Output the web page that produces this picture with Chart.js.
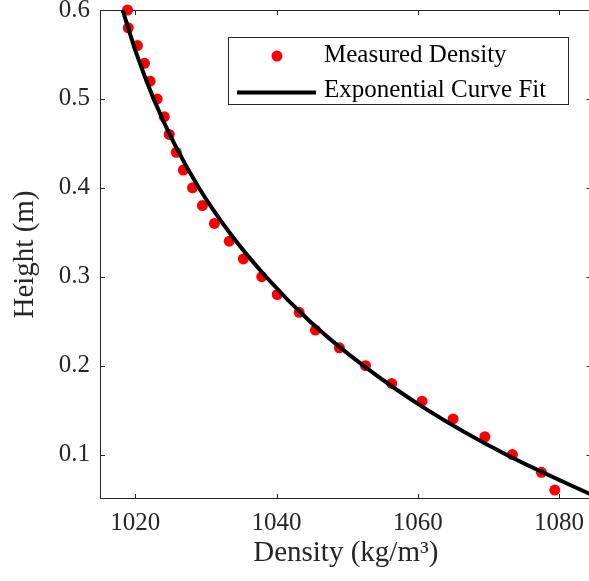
<!DOCTYPE html>
<html>
<head>
<meta charset="utf-8">
<script src="https://cdn.jsdelivr.net/npm/chart.js@4.4.0/dist/chart.umd.min.js"></script>
<style>
    html, body { margin: 0; padding: 0; background: #fff; overflow: hidden; }
    #wrap { width: 589px; height: 581px; overflow: hidden; }
    canvas { display: block; }
</style>
</head>
<body>
<div id="wrap"><canvas id="densityChart" width="597" height="581"></canvas></div>
<script>
// Dados medidos (altura em m, densidade em kg/m3)
const heights = [0.60, 0.58, 0.56, 0.54, 0.52, 0.50, 0.48, 0.46, 0.44, 0.42, 0.40, 0.38, 0.36, 0.34,
    0.32, 0.30, 0.28, 0.26, 0.24, 0.22, 0.20, 0.18, 0.16, 0.14, 0.12, 0.10, 0.08, 0.06];
const measuredDensity = [1018.9, 1019.0, 1020.3, 1021.3, 1022.1, 1023.1, 1024.1, 1024.8, 1025.8, 1026.8,
    1028.1, 1029.5, 1031.2, 1033.3, 1035.3, 1037.9, 1040.1, 1043.2, 1045.5, 1048.9, 1052.6, 1056.3,
    1060.6, 1065.0, 1069.5, 1073.4, 1077.5, 1079.4];

// Curva exponencial ajustada
const fitHeights = [0.60, 0.55, 0.50, 0.45, 0.40, 0.35, 0.30, 0.25, 0.20, 0.15, 0.10, 0.05];
const fitDensity = [1018.2, 1020.2, 1022.6, 1025.5, 1029.0, 1033.3, 1038.5, 1044.7, 1052.3, 1061.4, 1072.5, 1085.9];

// Marcas dos eixos
const xTicks = [1020, 1040, 1060, 1080];
const yTicks = [0.1, 0.2, 0.3, 0.4, 0.5, 0.6];

const axisColor = '#262626';
const serif = '"Liberation Serif", "Times New Roman", serif';

// Moldura com marcas para dentro, como no MATLAB
const framePlugin = {
    id: 'frame',
    beforeDatasetsDraw(chart) {
        const { ctx, chartArea: a, scales: { x, y } } = chart;
        ctx.save();
        ctx.strokeStyle = axisColor;
        ctx.lineWidth = 1;
        ctx.strokeRect(a.left + 0.5, a.top + 0.5, a.right - a.left - 1, a.bottom - a.top - 1);
        ctx.beginPath();
        xTicks.forEach(v => {
            const px = Math.round(x.getPixelForValue(v)) + 0.5;
            ctx.moveTo(px, a.bottom); ctx.lineTo(px, a.bottom - 5);
            ctx.moveTo(px, a.top); ctx.lineTo(px, a.top + 5);
        });
        yTicks.forEach(v => {
            const py = Math.round(y.getPixelForValue(v)) + 0.5;
            ctx.moveTo(a.left, py); ctx.lineTo(a.left + 5, py);
            ctx.moveTo(a.right, py); ctx.lineTo(a.right - 5, py);
        });
        ctx.stroke();
        ctx.restore();
    },
    afterDraw(chart) {
        const { ctx } = chart;
        const ds = chart.data.datasets;
        ctx.save();
        ctx.fillStyle = '#fff';
        ctx.fillRect(228, 37, 340, 67);
        ctx.strokeStyle = axisColor;
        ctx.lineWidth = 1;
        ctx.strokeRect(228.5, 37.5, 340, 67);
        // ponto vermelho
        ctx.fillStyle = '#ff0000';
        ctx.beginPath();
        ctx.arc(277, 56, 5.5, 0, Math.PI * 2);
        ctx.fill();
        // linha preta
        ctx.strokeStyle = '#000';
        ctx.lineWidth = 4;
        ctx.beginPath();
        ctx.moveTo(237, 92.5); ctx.lineTo(316, 92.5);
        ctx.stroke();
        ctx.fillStyle = '#000';
        ctx.font = '25px ' + serif;
        ctx.textBaseline = 'middle';
        ctx.textAlign = 'left';
        ctx.fillText(ds[1].label, 324, 55);
        ctx.fillText(ds[0].label, 324, 90);
        ctx.restore();
    }
};

function createDensityChart() {
    const ctx = document.getElementById('densityChart').getContext('2d');
    const data = {
        datasets: [{
            type: 'line',
            label: 'Exponential Curve Fit',
            data: fitDensity.map((d, i) => ({ x: d, y: fitHeights[i] })),
            borderColor: '#000',
            borderWidth: 4,
            pointRadius: 0,
            fill: false,
            cubicInterpolationMode: 'monotone'
        }, {
            type: 'scatter',
            label: 'Measured Density',
            data: measuredDensity.map((d, i) => ({ x: d, y: heights[i] })),
            backgroundColor: '#ff0000',
            borderWidth: 0,
            pointRadius: 5.5,
            clip: false
        }]
    };

    const config = {
        type: 'scatter',
        data: data,
        options: {
            responsive: false,
            animation: false,
            devicePixelRatio: 1,
            layout: { padding: { top: 10, left: 0, right: 0, bottom: 0 } },
            plugins: { legend: { display: false }, tooltip: { enabled: false } },
            scales: {
                x: {
                    type: 'linear',
                    min: 1015,
                    max: 1084.6,
                    afterBuildTicks: s => { s.ticks = xTicks.map(v => ({ value: v })); },
                    afterFit: s => { s.height = 82; s.paddingLeft = 0; s.paddingRight = 0; },
                    grid: { display: false, drawTicks: false },
                    border: { display: false },
                    ticks: { color: axisColor, font: { family: serif, size: 25 }, padding: 9, maxRotation: 0,
                        callback: v => String(v) },
                    title: {
                        display: true,
                        text: 'Density (kg/m³)',
                        color: axisColor,
                        font: { family: serif, size: 29 },
                        padding: { top: 0, bottom: 10 }
                    }
                },
                y: {
                    type: 'linear',
                    min: 0.05,
                    max: 0.6,
                    afterBuildTicks: s => { s.ticks = yTicks.map(v => ({ value: v })); },
                    afterFit: s => { s.width = 100; s.paddingTop = 0; s.paddingBottom = 0; },
                    grid: { display: false, drawTicks: false },
                    border: { display: false },
                    ticks: { color: axisColor, font: { family: serif, size: 25 }, padding: 10,
                        callback: v => v.toFixed(1) },
                    title: {
                        display: true,
                        text: 'Height (m)',
                        color: axisColor,
                        font: { family: serif, size: 29 },
                        padding: { top: 8, bottom: 0 }
                    }
                }
            }
        },
        plugins: [framePlugin]
    };

    new Chart(ctx, config);
}

document.addEventListener('DOMContentLoaded', () => {
    createDensityChart();
});
</script>
</body>
</html>
